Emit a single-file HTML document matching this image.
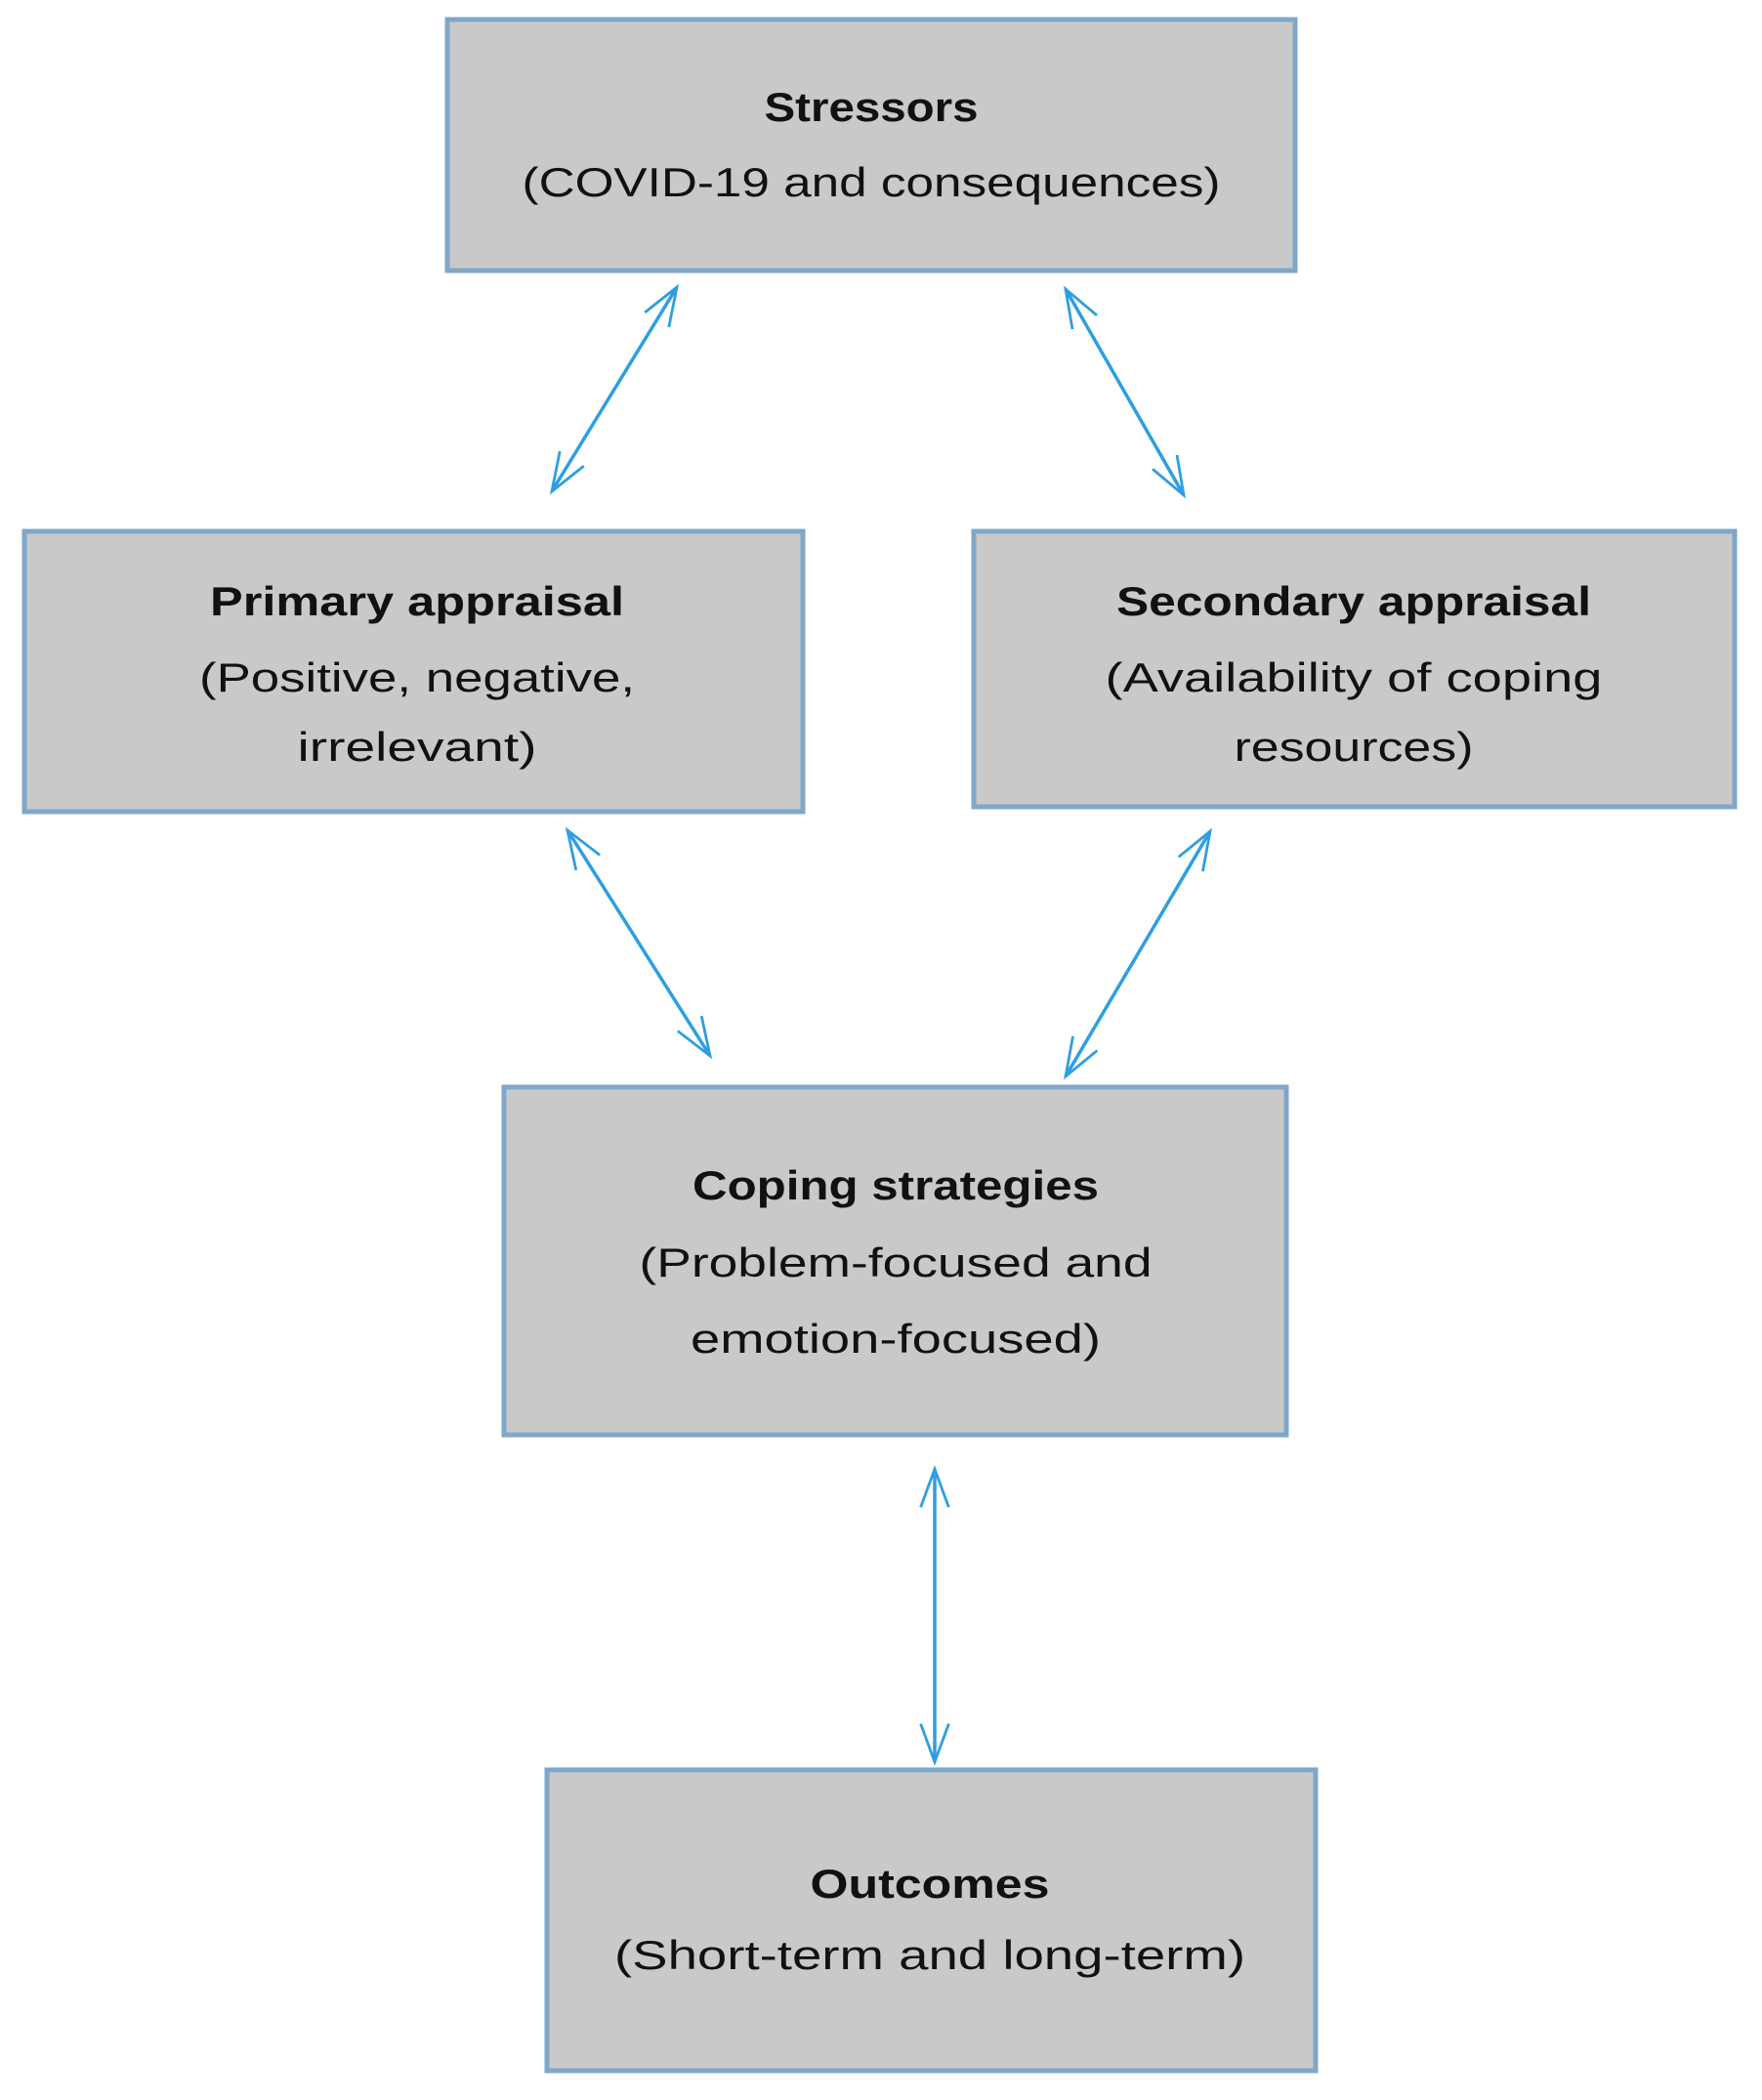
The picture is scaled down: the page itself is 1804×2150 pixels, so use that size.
<!DOCTYPE html>
<html><head><meta charset="utf-8"><style>html,body{margin:0;padding:0;background:#fff}svg{display:block}</style></head>
<body>
<svg width="1804" height="2150" viewBox="0 0 1804 2150" xmlns="http://www.w3.org/2000/svg">
<defs>
<marker id="h" viewBox="0 0 20 20" refX="19" refY="10" markerWidth="16" markerHeight="16" markerUnits="userSpaceOnUse" orient="auto-start-reverse" overflow="visible">
<polyline points="-30,-8 19,10 -30,28" fill="none" stroke="#2e9ee0" stroke-width="3.5"/>
</marker>
</defs>
<g fill="#c9c9c9" stroke="#7fa7c9" stroke-width="5">
<rect x="458" y="20" width="868" height="257"/>
<rect x="25" y="544" width="797" height="287"/>
<rect x="997" y="544" width="779" height="282"/>
<rect x="516" y="1113" width="801" height="356"/>
<rect x="560" y="1812" width="787" height="308"/>
</g>
<g stroke="#2e9ee0" stroke-width="3.5" fill="none">
<line x1="693" y1="294" x2="565" y2="503" marker-start="url(#h)" marker-end="url(#h)"/>
<line x1="1091" y1="296" x2="1212" y2="507" marker-start="url(#h)" marker-end="url(#h)"/>
<line x1="581" y1="850" x2="727" y2="1081" marker-start="url(#h)" marker-end="url(#h)"/>
<line x1="1239" y1="851" x2="1091" y2="1102" marker-start="url(#h)" marker-end="url(#h)"/>
<line x1="957" y1="1504" x2="957" y2="1804" marker-start="url(#h)" marker-end="url(#h)"/>
</g>
<g font-family="Liberation Sans, sans-serif" font-size="42" fill="#111" text-anchor="middle">
<text x="892" y="124" font-weight="bold" textLength="219" lengthAdjust="spacingAndGlyphs">Stressors</text>
<text x="892" y="201" textLength="715" lengthAdjust="spacingAndGlyphs">(COVID-19 and consequences)</text>
<text x="427" y="630" font-weight="bold" textLength="424" lengthAdjust="spacingAndGlyphs">Primary appraisal</text>
<text x="427" y="708" textLength="446" lengthAdjust="spacingAndGlyphs">(Positive, negative,</text>
<text x="427" y="779" textLength="245" lengthAdjust="spacingAndGlyphs">irrelevant)</text>
<text x="1386" y="630" font-weight="bold" textLength="486" lengthAdjust="spacingAndGlyphs">Secondary appraisal</text>
<text x="1386" y="708" textLength="509" lengthAdjust="spacingAndGlyphs">(Availability of coping</text>
<text x="1386" y="779" textLength="245" lengthAdjust="spacingAndGlyphs">resources)</text>
<text x="917" y="1228" font-weight="bold" textLength="416" lengthAdjust="spacingAndGlyphs">Coping strategies</text>
<text x="917" y="1307" textLength="525" lengthAdjust="spacingAndGlyphs">(Problem-focused and</text>
<text x="917" y="1385" textLength="420" lengthAdjust="spacingAndGlyphs">emotion-focused)</text>
<text x="952" y="1943" font-weight="bold" textLength="245" lengthAdjust="spacingAndGlyphs">Outcomes</text>
<text x="952" y="2016" textLength="646" lengthAdjust="spacingAndGlyphs">(Short-term and long-term)</text>
</g>
</svg>
</body></html>
